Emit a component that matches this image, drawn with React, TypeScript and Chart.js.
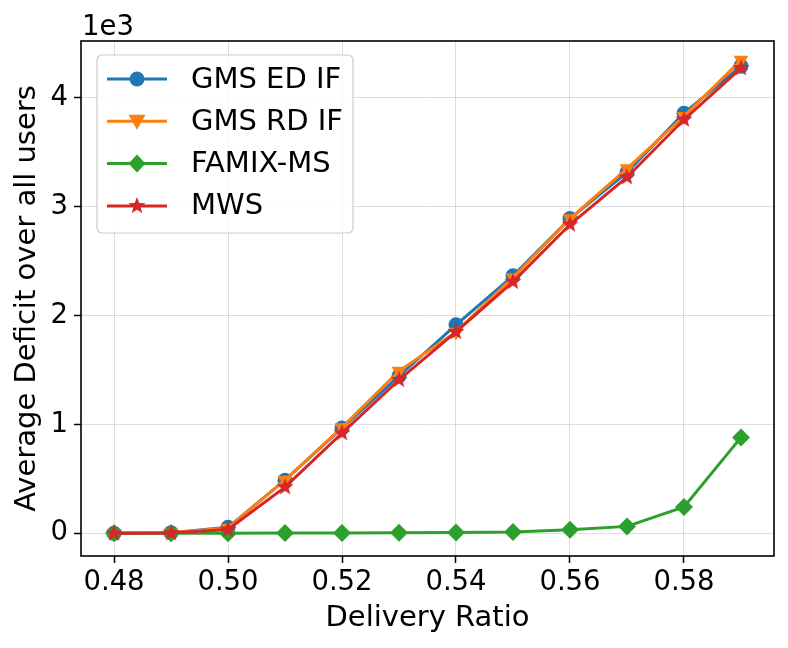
import React, { useEffect, useRef } from "react";
import { Chart, registerables } from "chart.js";

Chart.register(...registerables);

const ratios = [0.48, 0.49, 0.5, 0.51, 0.52, 0.53, 0.54, 0.55, 0.56, 0.57, 0.58, 0.59];
const gmsEdIf = [0, 5, 55, 488, 967, 1445, 1915, 2365, 2890, 3315, 3858, 4290];
const gmsRdIf = [0, 5, 50, 490, 973, 1490, 1850, 2350, 2890, 3350, 3830, 4346];
const famixMs = [0, 0, 2, 3, 4, 5, 8, 12, 34, 64, 243, 881];
const mws = [0, 3, 35, 424, 920, 1410, 1850, 2310, 2836, 3270, 3800, 4272];

const xTicks = [0.48, 0.5, 0.52, 0.54, 0.56, 0.58];
const yTicks = [0, 1000, 2000, 3000, 4000];

const labels = ["GMS ED IF", "GMS RD IF", "FAMIX-MS", "MWS"];
const colors = ["#1f77b4", "#ff7f0e", "#2ca02c", "#d62728"];

const FONT = "'DejaVu Sans', sans-serif";

function makeStar(color: string, size = 24, outer = 9, inner = 3.8) {
  const c = document.createElement("canvas");
  c.width = size;
  c.height = size;
  const g = c.getContext("2d")!;
  g.beginPath();
  for (let i = 0; i < 10; i++) {
    const r = i % 2 === 0 ? outer : inner;
    const a = -Math.PI / 2 + (i * Math.PI) / 5;
    const px = size / 2 + r * Math.cos(a);
    const py = size / 2 + r * Math.sin(a);
    if (i === 0) g.moveTo(px, py);
    else g.lineTo(px, py);
  }
  g.closePath();
  g.fillStyle = color;
  g.fill();
  return c;
}

function toPoints(ys: number[]) {
  return ratios.map((x, i) => ({ x, y: ys[i] }));
}

export default function App() {
  const ref = useRef<HTMLCanvasElement | null>(null);

  useEffect(() => {
    document.body.style.margin = "0";
    const ctx = ref.current?.getContext("2d");
    if (!ctx) return;
    const star = makeStar(colors[3]);

    const framePlugin = {
      id: "frameAndLegend",
      afterDraw(chart: any) {
        const c = chart.ctx as CanvasRenderingContext2D;
        const a = chart.chartArea;
        c.save();
        // frame
        c.strokeStyle = "#000";
        c.lineWidth = 1.6;
        c.strokeRect(a.left, a.top, a.right - a.left, a.bottom - a.top);
        // offset text
        c.fillStyle = "#000";
        c.font = `27.5px ${FONT}`;
        c.textAlign = "left";
        c.textBaseline = "alphabetic";
        c.fillText("1e3", a.left + 1, 35);
        // legend
        const bx = a.left + 16;
        const by = a.top + 14;
        const bw = 256;
        const bh = 178;
        c.beginPath();
        c.roundRect(bx, by, bw, bh, 5);
        c.fillStyle = "rgba(255,255,255,0.8)";
        c.fill();
        c.strokeStyle = "#cccccc";
        c.lineWidth = 1.2;
        c.stroke();
        labels.forEach((lab, i) => {
          const y = by + 24 + i * 42.3;
          const x0 = bx + 10;
          const x1 = bx + 70;
          const mx = (x0 + x1) / 2;
          c.strokeStyle = colors[i];
          c.lineWidth = 3;
          c.beginPath();
          c.moveTo(x0, y);
          c.lineTo(x1, y);
          c.stroke();
          c.fillStyle = colors[i];
          c.beginPath();
          if (i === 0) {
            c.arc(mx, y, 7.5, 0, Math.PI * 2);
            c.fill();
          } else if (i === 1) {
            c.moveTo(mx - 8.5, y - 6.5);
            c.lineTo(mx + 8.5, y - 6.5);
            c.lineTo(mx, y + 8.5);
            c.closePath();
            c.fill();
          } else if (i === 2) {
            c.moveTo(mx, y - 9);
            c.lineTo(mx + 8.5, y);
            c.lineTo(mx, y + 9);
            c.lineTo(mx - 8.5, y);
            c.closePath();
            c.fill();
          } else {
            c.drawImage(star, mx - star.width / 2, y - star.height / 2);
          }
          c.fillStyle = "#000";
          c.font = `29px ${FONT}`;
          c.textBaseline = "middle";
          c.fillText(lab, bx + 94, y + 1);
        });
        c.restore();
      },
    };

    const chart = new Chart(ctx, {
      type: "line",
      data: {
        datasets: [
          {
            label: labels[0],
            data: toPoints(gmsEdIf),
            borderColor: colors[0],
            backgroundColor: colors[0],
            pointStyle: "circle",
            pointRadius: 7.5,
            order: 3,
          },
          {
            label: labels[1],
            data: toPoints(gmsRdIf),
            borderColor: colors[1],
            backgroundColor: colors[1],
            pointStyle: "triangle",
            rotation: 180,
            pointRadius: 8.5,
            order: 2,
          },
          {
            label: labels[2],
            data: toPoints(famixMs),
            borderColor: colors[2],
            backgroundColor: colors[2],
            pointStyle: "rectRot",
            pointRadius: 9,
            order: 1,
          },
          {
            label: labels[3],
            data: toPoints(mws),
            borderColor: colors[3],
            backgroundColor: colors[3],
            pointStyle: star,
            order: 0,
          },
        ] as any,
      },
      options: {
        responsive: false,
        animation: false,
        layout: { padding: { left: 0, right: 14, top: 41, bottom: 0 } },
        elements: {
          line: { borderWidth: 3, tension: 0 },
          point: { borderWidth: 0, hoverRadius: 8 },
        },
        plugins: { legend: { display: false }, tooltip: { enabled: false } },
        scales: {
          x: {
            type: "linear",
            min: 0.47421,
            max: 0.59579,
            afterFit: (s: any) => {
              s.height = 92;
            },
            afterBuildTicks: (s: any) => {
              s.ticks = xTicks.map((v) => ({ value: v }));
            },
            grid: {
              color: "rgba(0,0,0,0.13)",
              lineWidth: 1,
              tickColor: "#000",
              tickLength: 7,
              tickWidth: 1.5,
            },
            border: { display: false },
            ticks: {
              color: "#000",
              font: { family: FONT, size: 27.5 },
              padding: 3,
              maxRotation: 0,
              callback: (v: any) => Number(v).toFixed(2),
            },
            title: {
              display: true,
              text: "Delivery Ratio",
              color: "#000",
              font: { family: FONT, size: 29 },
              padding: { top: 0, bottom: 12 },
            },
          },
          y: {
            type: "linear",
            min: -208,
            max: 4521,
            afterFit: (s: any) => {
              s.width = 81;
            },
            afterBuildTicks: (s: any) => {
              s.ticks = yTicks.map((v) => ({ value: v }));
            },
            grid: {
              color: "rgba(0,0,0,0.13)",
              lineWidth: 1,
              tickColor: "#000",
              tickLength: 7,
              tickWidth: 1.5,
            },
            border: { display: false },
            ticks: {
              color: "#000",
              font: { family: FONT, size: 27.5 },
              padding: 6,
              callback: (v: any) => String(Math.round(Number(v) / 1000)),
            },
            title: {
              display: true,
              text: "Average Deficit over all users",
              color: "#000",
              font: { family: FONT, size: 29 },
              padding: { top: 10, bottom: 0 },
            },
          },
        },
      },
      plugins: [framePlugin],
    });
    return () => chart.destroy();
  }, []);

  return (
    <div style={{ width: 788, height: 648 }}>
      <canvas ref={ref} width={788} height={648} aria-label="Average deficit chart" role="img" />
    </div>
  );
}
